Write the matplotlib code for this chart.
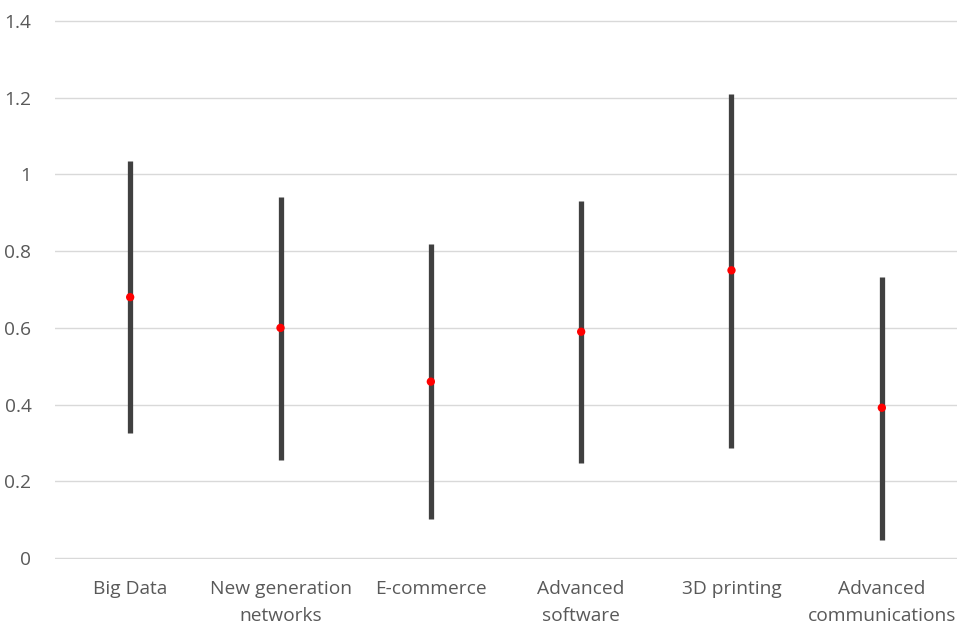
import matplotlib

matplotlib.use("Agg")
import matplotlib.pyplot as plt

categories = ["Big Data", "New generation\nnetworks", "E-commerce",
              "Advanced\nsoftware", "3D printing", "Advanced\ncommunications"]
upper = [1.036, 0.940, 0.818, 0.930, 1.210, 0.732]
lower = [0.325, 0.257, 0.101, 0.249, 0.288, 0.047]
mean = [0.680, 0.600, 0.460, 0.590, 0.750, 0.392]
yticks = [0, 0.2, 0.4, 0.6, 0.8, 1, 1.2, 1.4]
ytick_labels = ["0", "0.2", "0.4", "0.6", "0.8", "1", "1.2", "1.4"]

plt.rcParams["font.family"] = ["Open Sans", "DejaVu Sans"]

fig = plt.figure(figsize=(9.57, 6.26), dpi=100)
ax = fig.add_axes([55 / 957, 1 - 559 / 626, 902 / 957, 539 / 626])

x = list(range(len(categories)))
ax.vlines(x, lower, upper, color="#404040", linewidth=3.8, zorder=3)
ax.scatter(x, mean, color="#ff0000", s=36, zorder=4, edgecolors="none")

ax.set_xlim(-0.5, len(categories) - 0.5)
ax.set_ylim(-0.002, 1.402)
ax.set_yticks(yticks)
ax.set_yticklabels(ytick_labels)
ax.set_xticks(x)
ax.set_xticklabels(categories, linespacing=1.65)
ax.grid(axis="y", color="#d9d9d9", linewidth=1.0, zorder=0)
ax.set_axisbelow(True)
for spine in ax.spines.values():
    spine.set_visible(False)
ax.tick_params(axis="both", length=0, labelsize=13.8, colors="#595959")
ax.tick_params(axis="x", pad=15)
ax.tick_params(axis="y", pad=17)

fig.savefig("out.png", dpi=100)
